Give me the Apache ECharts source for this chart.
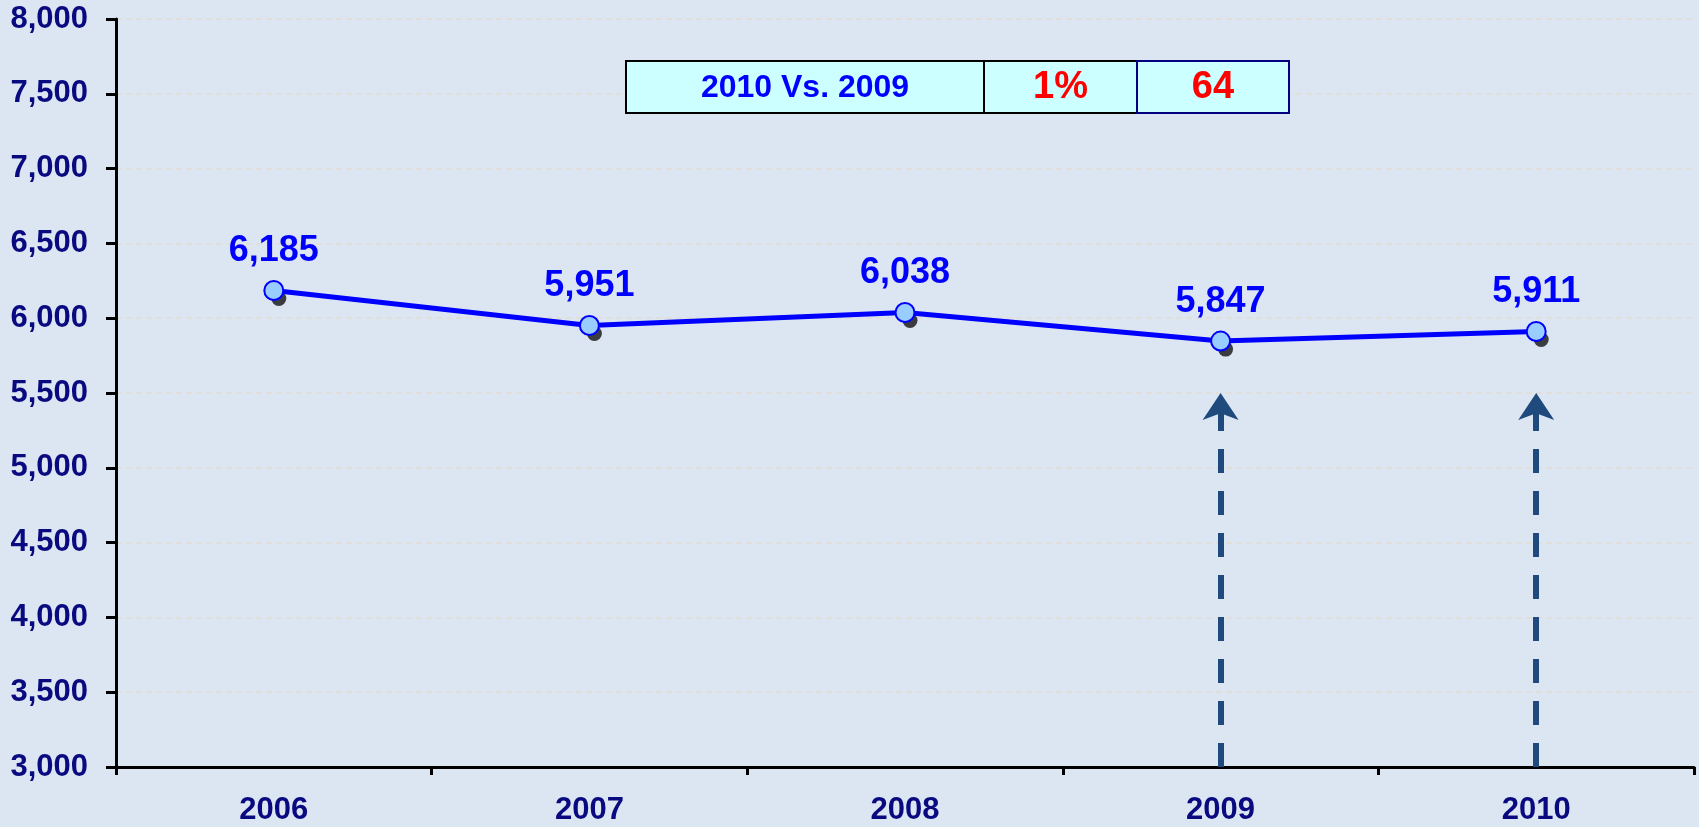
<!DOCTYPE html>
<html>
<head>
<meta charset="utf-8">
<title>2006-2010 trend</title>
<script src="https://cdn.jsdelivr.net/npm/echarts@6/dist/echarts.min.js"></script>
<style>
  html, body { margin: 0; padding: 0; background: #dce6f2; }
  #chart { width: 1699px; height: 827px; }
</style>
</head>
<body>
<div id="chart"></div>
<script>
// data
const years = ['2006', '2007', '2008', '2009', '2010'];
const values = [6185, 5951, 6038, 5847, 5911];
const arrowYears = ['2009', '2010'];
const arrowFrom = 3000, arrowTo = 5500;
const compareCells = ['2010 Vs. 2009', '1%', '64'];

const FONT = "'Liberation Sans', Arial, sans-serif";
const NAVY = '#0a0a80';
const fmt = v => Number(v).toLocaleString('en-US');

// comparison box (top middle)
const cellW = [358, 153, 152], boxX = 626, boxY = 61, boxH = 52;
const cellStroke = ['#000', '#000', '#000080'];
const cellColor = ['#0000ff', '#ff0000', '#ff0000'];
const cellFont = [32, 38, 38];
const boxEls = [];
let cx = boxX;
compareCells.forEach((t, i) => {
  boxEls.push({ type: 'rect', z: 10, shape: { x: cx, y: boxY, width: cellW[i], height: boxH },
    style: { fill: '#ccffff', stroke: cellStroke[i], lineWidth: 2 } });
  boxEls.push({ type: 'text', z: 11, x: cx + cellW[i] / 2, y: boxY + boxH / 2 + 1,
    style: { text: t, fill: cellColor[i], font: `bold ${cellFont[i]}px ${FONT}`, align: 'center', verticalAlign: 'middle' } });
  cx += cellW[i];
});

const chart = echarts.init(document.getElementById('chart'));
chart.setOption({
  animation: false,
  backgroundColor: '#dce6f2',
  textStyle: { fontFamily: FONT },
  grid: { left: 116, right: 5, top: 19, bottom: 60 },
  xAxis: {
    type: 'category', data: years, boundaryGap: true,
    axisLine: { lineStyle: { color: '#000', width: 3 } },
    axisTick: { show: true, length: 8, lineStyle: { color: '#000', width: 3 } },
    axisLabel: { color: NAVY, fontWeight: 'bold', fontSize: 31, margin: 28, fontFamily: FONT },
    splitLine: { show: false }
  },
  yAxis: {
    type: 'value', min: 3000, max: 8000, interval: 500,
    axisLine: { show: true, lineStyle: { color: '#000', width: 3 } },
    axisTick: { show: true, length: 10, lineStyle: { color: '#000', width: 3 } },
    axisLabel: { color: NAVY, fontWeight: 'bold', fontSize: 31, margin: 28, fontFamily: FONT, formatter: fmt },
    splitLine: { lineStyle: { color: '#e2ddd4', width: 1.5, type: [6, 4] } }
  },
  graphic: boxEls,
  series: [
    { // smudge under each marker
      type: 'scatter', data: values, silent: true, z: 1,
      symbol: 'circle', symbolSize: 15, symbolOffset: [5, 8],
      itemStyle: { color: '#111' }
    },
    {
      type: 'line', data: values, z: 3,
      symbol: 'circle', symbolSize: 19, showAllSymbol: true,
      lineStyle: { color: '#0000ff', width: 5 },
      itemStyle: { color: '#99ccff', borderColor: '#0000ff', borderWidth: 2 },
      label: { show: true, position: 'top', distance: 11, color: '#0000ff', fontWeight: 'bold',
        fontSize: 36, fontFamily: FONT, formatter: p => fmt(p.value) },
      markLine: {
        silent: true, symbol: ['none', 'arrow'], symbolSize: 27,
        label: { show: false },
        lineStyle: { color: '#1f4a7e', width: 6, type: [24, 18] },
        data: arrowYears.map(y => [{ coord: [y, arrowFrom] }, { coord: [y, arrowTo] }])
      }
    }
  ]
});
</script>
</body>
</html>
